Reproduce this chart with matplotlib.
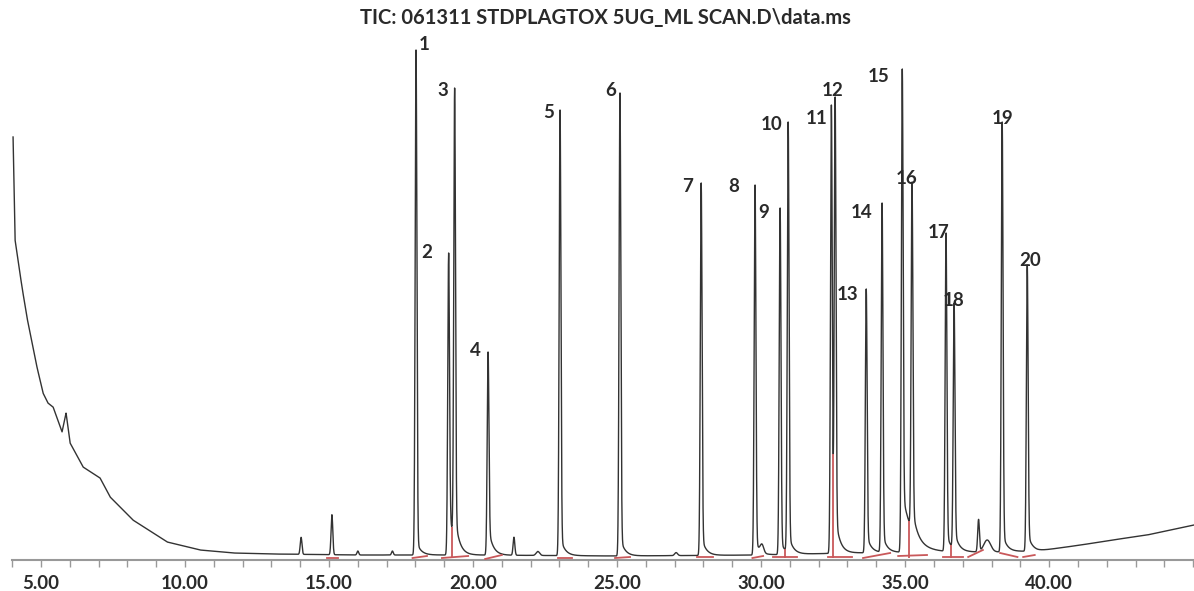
import numpy as np
import matplotlib
matplotlib.use('Agg')
import matplotlib.pyplot as plt
from matplotlib.ticker import MultipleLocator, FixedLocator, FormatStrFormatter

plt.rcParams['font.family'] = ['Lato', 'DejaVu Sans']

title = 'TIC: 061311 STDPLAGTOX 5UG_ML SCAN.D\\data.ms'

# numbered peaks: retention time (min), apex height, tail height, tail decay (min)
peak_labels = ['1', '2', '3', '4', '5', '6', '7', '8', '9', '10',
               '11', '12', '13', '14', '15', '16', '17', '18', '19', '20']
peak_times = [18.02, 19.15, 19.36, 20.52, 23.02, 25.10, 27.92, 29.79, 30.66, 30.94,
              32.44, 32.57, 33.65, 34.20, 34.90, 35.24, 36.42, 36.70, 38.37, 39.24]
peak_heights = [510, 307, 472, 208, 450, 467, 377, 375, 352, 438,
                455, 463, 271, 357, 491, 378, 327, 257, 438, 295]
tail_heights = [15, 55, 30, 30, 20, 20, 20, 15, 15, 20,
                25, 30, 20, 20, 60, 25, 20, 20, 20, 20]
tail_decay = [0.15, 0.15, 0.15, 0.15, 0.15, 0.15, 0.15, 0.15, 0.15, 0.15,
              0.15, 0.15, 0.15, 0.15, 0.35, 0.15, 0.15, 0.15, 0.15, 0.15]

# small unlabelled peaks
minor_times = [14.03, 15.10, 16.00, 17.20, 21.42, 22.25, 27.05, 30.03, 37.55, 37.85]
minor_heights = [17, 40, 4, 4, 18, 4, 3, 8, 32, 12]
minor_widths = [0.03, 0.03, 0.03, 0.03, 0.03, 0.06, 0.05, 0.06, 0.03, 0.12]

# baseline (solvent tail and column bleed)
base_times = [4.03, 4.10, 4.20, 4.34, 4.51, 4.69, 4.86, 5.07, 5.24, 5.42, 5.73, 5.87,
              6.01, 6.46, 7.05, 7.40, 8.19, 9.38, 10.52, 11.67, 13.0, 16.0, 20.0,
              25.0, 30.0, 33.0, 36.0, 38.0, 39.6, 41.1, 42.2, 43.4, 45.03]
base_heights = [423, 320, 300, 273, 243, 217, 193, 167, 157, 153, 128, 147,
                117, 93, 82, 63, 40, 18, 10, 7, 6, 5, 5,
                4, 5, 7, 8, 8, 9, 15, 20, 25, 35]

# red integration baselines, and drop lines between pairs of peaks
seg_start = [14.93, 17.90, 18.92, 20.42, 22.95, 24.93, 27.78, 29.70, 30.40, 32.33,
             33.54, 34.76, 36.32, 37.19, 38.30, 39.10]
seg_end = [15.31, 18.40, 19.83, 21.00, 23.44, 25.45, 28.33, 30.07, 31.25, 33.16,
           34.48, 35.76, 37.01, 37.70, 38.90, 39.50]
seg_h0 = [2, 2, 2, 1, 2, 2, 3, 2, 3, 3, 2, 4, 3, 3, 7, 3]
seg_h1 = [2, 4, 4, 5, 2, 3, 3, 4, 3, 3, 7, 5, 3, 10, 3, 5]
drop_pairs = [('2', '3'), ('9', '10'), ('11', '12'), ('15', '16'), ('17', '18')]

# label offsets from the apex, in pixels
label_dx = [8, -22, -12, -13, -11, -9, -14, -21, -16, -17,
            -15, -3, -19, -20, -24, -5, -7, 0, 0, 3]
label_dy = [6, 0, -3, 2, -2, 2, -3, -1, -5, -3,
            -14, 6, -5, -10, -8, 3, 0, 2, 4, 5]

t = np.arange(4.03, 45.03, 0.003)
sigma = 0.03


def trace(amps):
    y = np.interp(t, base_times, base_heights)
    for t0, amp, a, tau in zip(peak_times, amps, tail_heights, tail_decay):
        y = y + amp * np.exp(-0.5 * ((t - t0) / sigma) ** 2)
        ramp = 0.5 * (1 + np.tanh((t - t0) / 0.03))
        y = y + a * ramp * np.exp(-np.clip(t - t0, 0, None) / tau)
    for t0, h, w in zip(minor_times, minor_heights, minor_widths):
        y = y + h * np.exp(-0.5 * ((t - t0) / w) ** 2)
    return y


# scale each peak so the summed trace hits the apex height
amps = np.array(peak_heights, dtype=float)
for _ in range(6):
    sig = trace(amps)
    apex = np.array([sig[np.abs(t - t0) < 0.04].max() for t0 in peak_times])
    amps += np.array(peak_heights) - apex
sig = trace(amps)

fig = plt.figure(figsize=(11.94, 5.91), dpi=100)
ax = fig.add_axes([12.2 / 1194, 31 / 591, 1 - 12.2 / 1194, 520 / 591])

ax.plot(t, sig, color='#333333', lw=1.0, zorder=2)

for t0, t1, h0, h1 in zip(seg_start, seg_end, seg_h0, seg_h1):
    ax.plot([t0, t1], [h0, h1], color='#c9585a', lw=1.3, zorder=3)
for p, q in drop_pairs:
    ta = peak_times[peak_labels.index(p)]
    tb = peak_times[peak_labels.index(q)]
    m = (t > ta) & (t < tb)
    k = np.argmin(sig[m])
    ax.vlines(t[m][k], 2, sig[m][k], color='#c9585a', lw=1.3, zorder=3)

for lbl, t0, h, dx, dy in zip(peak_labels, peak_times, peak_heights, label_dx, label_dy):
    ax.annotate(lbl, (t0, h), xytext=(dx, dy), textcoords='offset pixels',
                ha='center', va='center', fontsize=13.5, fontweight='bold',
                color='#2a2a2a', annotation_clip=False)

ax.set_xlim(4.0, 45.03)
ax.set_ylim(0, 520)
ax.xaxis.set_major_locator(FixedLocator([5, 10, 15, 20, 25, 30, 35, 40]))
ax.xaxis.set_minor_locator(MultipleLocator(1))
ax.xaxis.set_major_formatter(FormatStrFormatter('%.2f'))
ax.tick_params(axis='x', which='both', direction='out', length=5, width=1,
               color='#999999', labelsize=13.5, labelcolor='#2a2a2a', pad=6)
for lab in ax.get_xticklabels():
    lab.set_fontweight('bold')
ax.set_yticks([])
for s in ['left', 'top', 'right']:
    ax.spines[s].set_visible(False)
ax.spines['bottom'].set_color('#999999')
ax.spines['bottom'].set_linewidth(1.5)

fig.text(605 / 1194, 1 - 18 / 591, title, ha='center', va='center',
         fontsize=14.5, fontweight='bold', color='#2a2a2a')

fig.savefig('out.png', dpi=100)
